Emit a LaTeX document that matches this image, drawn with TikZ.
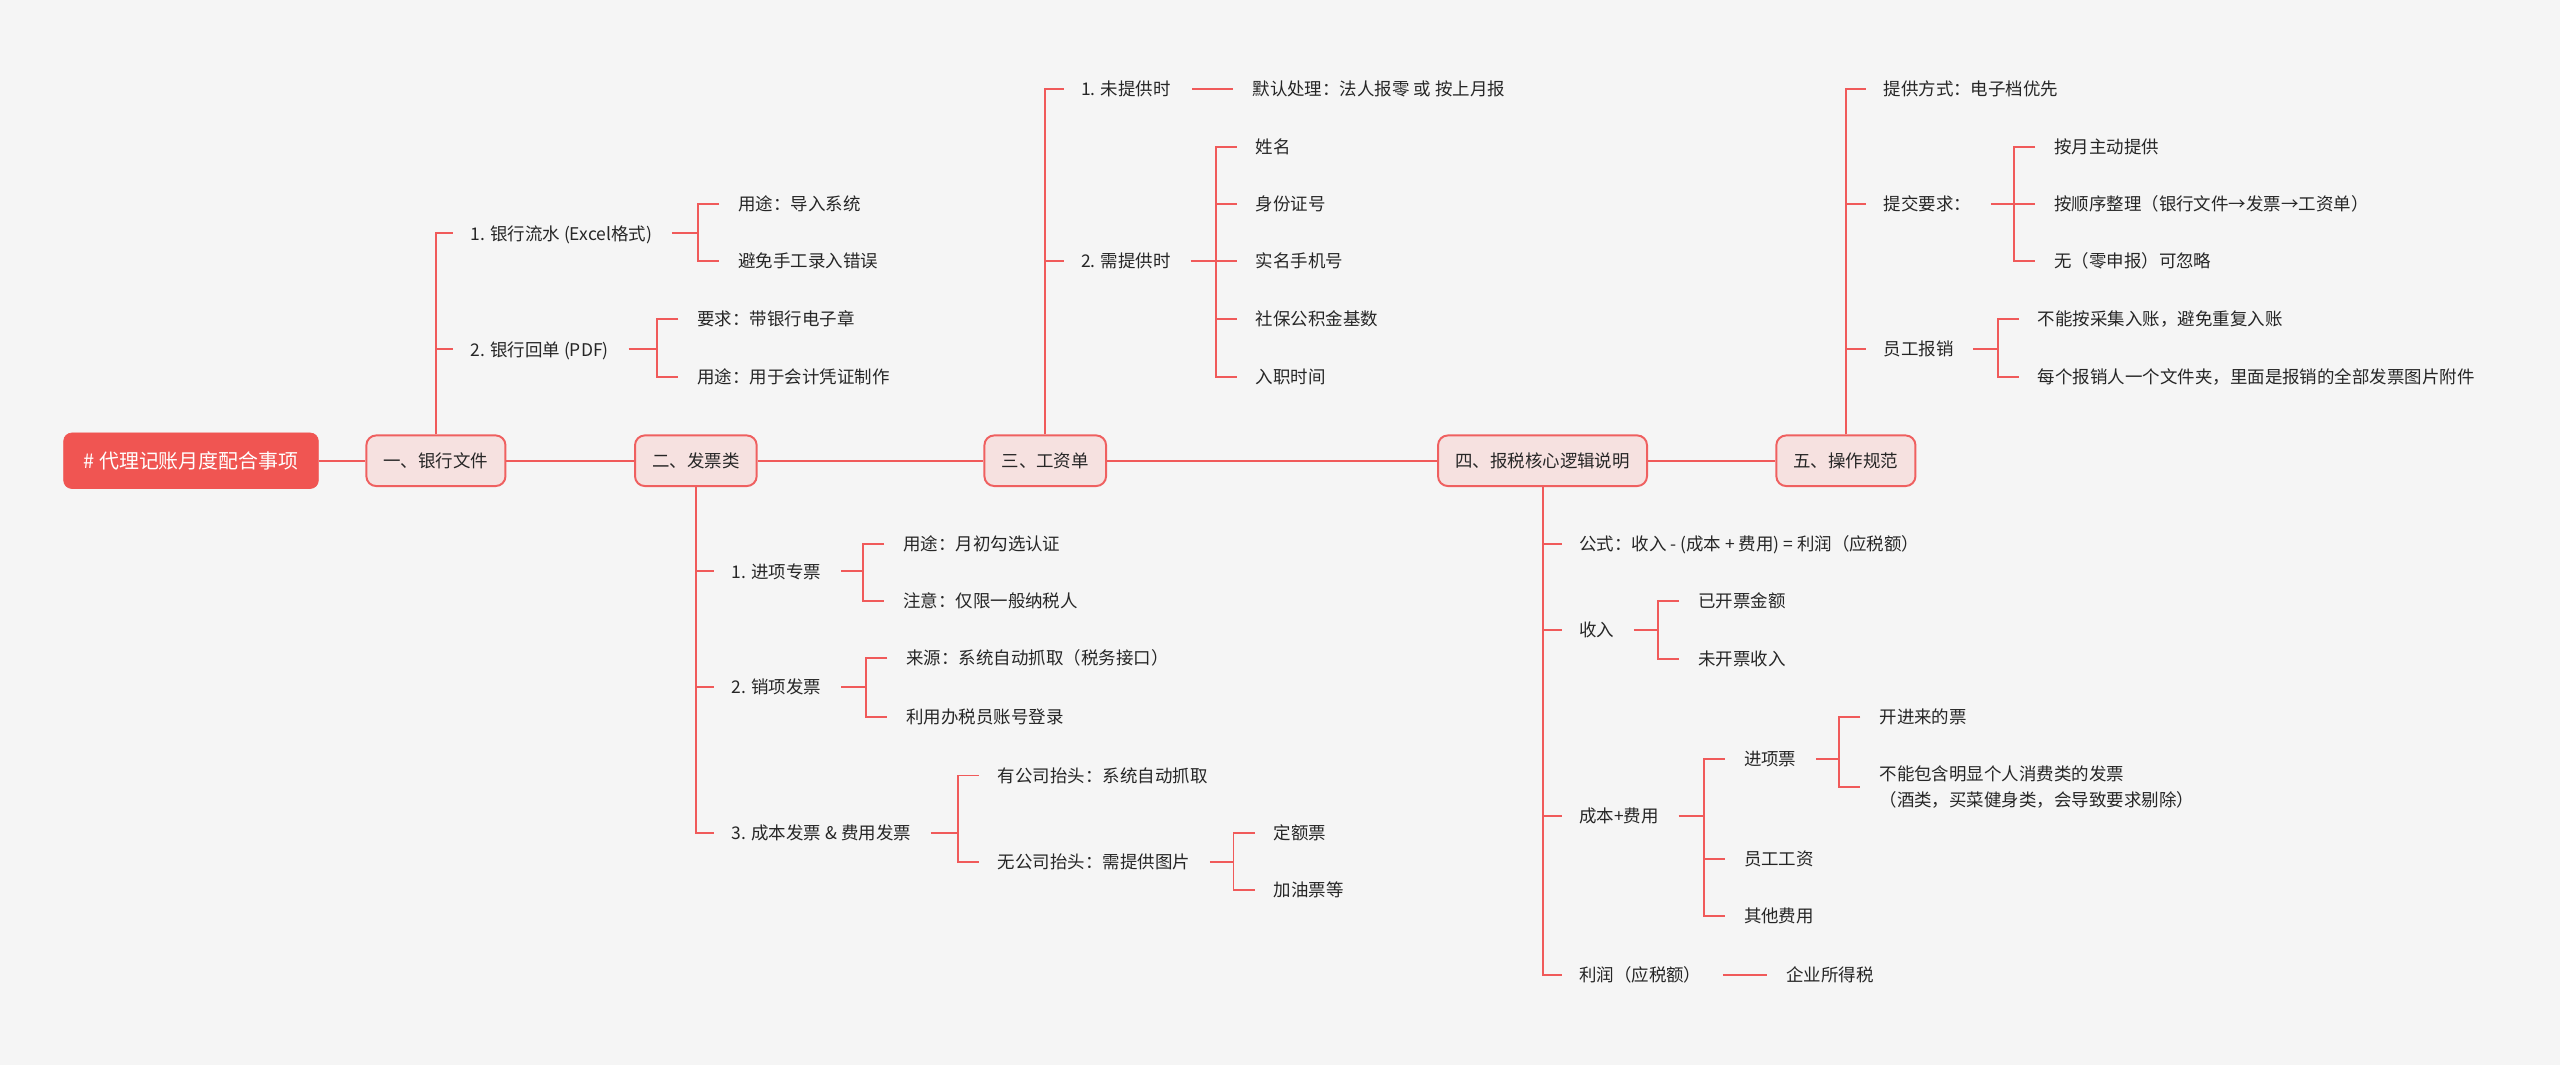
\documentclass[tikz,border=0pt]{standalone}
\usepackage{fontspec}
\setmainfont{Noto Sans CJK SC}
\definecolor{bgc}{HTML}{F5F5F5}
\definecolor{lnc}{HTML}{F05A5A}
\definecolor{rootfill}{HTML}{F05552}
\definecolor{boxfill}{HTML}{F6E1E0}
\definecolor{boxline}{HTML}{EF6060}
\definecolor{txt}{HTML}{262626}
\begin{document}
\begin{tikzpicture}[x=1bp,y=-1bp,
  conn/.style={draw=lnc,line width=1.2bp},
  leaf/.style={anchor=west,inner sep=0pt,text=txt,font=\fontsize{10.7bp}{13bp}\selectfont,text height=8.1bp,text depth=0pt},
  twoline/.style={anchor=west,inner sep=0pt,text=txt,font=\fontsize{10.7bp}{16bp}\selectfont,align=left},
  mainbox/.style={draw=boxline,fill=boxfill,line width=1.2bp,rounded corners=6bp,minimum height=31bp,inner xsep=10.5bp,inner ysep=0pt,text=txt,font=\fontsize{10.7bp}{13bp}\selectfont,text height=8.1bp,text depth=0pt},
  rootbox/.style={fill=rootfill,draw=rootfill,rounded corners=5bp,minimum height=34bp,minimum width=156bp,inner sep=0pt,text=white,font=\fontsize{12.2bp}{14bp}\selectfont,text height=9.3bp,text depth=0pt}]
\fill[bgc] (0,0) rectangle (1568,652);
\useasboundingbox (0,0) rectangle (1568,652);

% main nodes
\node[rootbox] (root) at (117,282.2) {\# 代理记账月度配合事项};
\node[mainbox] (b1) at (267,282.2) {一、银行文件};
\node[mainbox] (b2) at (426.2,282.2) {二、发票类};
\node[mainbox] (b3) at (640.2,282.2) {三、工资单};
\node[mainbox] (b4) at (944.8,282.2) {四、报税核心逻辑说明};
\node[mainbox] (b5) at (1130.6,282.2) {五、操作规范};

\draw[conn] (root.east) -- (b1.west);
\draw[conn] (b1.east) -- (b2.west);
\draw[conn] (b2.east) -- (b3.west);
\draw[conn] (b3.east) -- (b4.west);
\draw[conn] (b4.east) -- (b5.west);

% branch 1
\node[leaf] (g1) at (288,143) {1. 银行流水 (Excel格式)};
\node[leaf] (g1a) at (452,125) {用途：导入系统};
\node[leaf] (g1b) at (452,160) {避免手工录入错误};
\node[leaf] (g2) at (288,214) {2. 银行回单 (PDF)};
\node[leaf] (g2a) at (427,195.5) {要求：带银行电子章};
\node[leaf] (g2b) at (427,231) {用途：用于会计凭证制作};

% branch 2
\node[leaf] (h1) at (448,350) {1. 进项专票};
\node[leaf] (h1a) at (553,333) {用途：月初勾选认证};
\node[leaf] (h1b) at (553,368) {注意：仅限一般纳税人};
\node[leaf] (h2) at (448,421) {2. 销项发票};
\node[leaf] (h2a) at (555,403) {来源：系统自动抓取（税务接口）};
\node[leaf] (h2b) at (555,439) {利用办税员账号登录};
\node[leaf] (h3) at (448,510) {3. 成本发票 \& 费用发票};
\node[leaf] (h3a) at (611,475) {有公司抬头：系统自动抓取};
\node[leaf] (h3b) at (611,528) {无公司抬头：需提供图片};
\node[leaf] (h3b1) at (780,510) {定额票};
\node[leaf] (h3b2) at (780,545) {加油票等};

% branch 3
\node[leaf] (k1) at (662,54.5) {1. 未提供时};
\node[leaf] (k1a) at (767,54.5) {默认处理：法人报零 或 按上月报};
\node[leaf] (k2) at (662,160) {2. 需提供时};
\node[leaf] (k2a) at (769,90) {姓名};
\node[leaf] (k2b) at (769,125) {身份证号};
\node[leaf] (k2c) at (769,160) {实名手机号};
\node[leaf] (k2d) at (769,195.6) {社保公积金基数};
\node[leaf] (k2e) at (769,231) {入职时间};

% branch 4
\node[leaf] (m1) at (967,333) {公式：收入 - (成本 + 费用) = 利润（应税额）};
\node[leaf] (m2) at (967,386) {收入};
\node[leaf] (m2a) at (1040,368) {已开票金额};
\node[leaf] (m2b) at (1040,403.5) {未开票收入};
\node[leaf] (m3) at (967,500) {成本+费用};
\node[leaf] (m3a) at (1068,465) {进项票};
\node[leaf] (m3a1) at (1151,439) {开进来的票};
\node[twoline] (m3a2) at (1151,482) {不能包含明显个人消费类的发票\\（酒类，买菜健身类，会导致要求剔除）};
\node[leaf] (m3b) at (1068,526) {员工工资};
\node[leaf] (m3c) at (1068,561) {其他费用};
\node[leaf] (m4) at (967,597) {利润（应税额）};
\node[leaf] (m4a) at (1094,597) {企业所得税};

% branch 5
\node[leaf] (n1) at (1153.5,54.5) {提供方式：电子档优先};
\node[leaf] (n2) at (1153.5,125) {提交要求：};
\node[leaf] (n2a) at (1258,90) {按月主动提供};
\node[leaf] (n2b) at (1258,125) {按顺序整理（银行文件→发票→工资单）};
\node[leaf] (n2c) at (1258,160) {无（零申报）可忽略};
\node[leaf] (n3) at (1153.5,213.7) {员工报销};
\node[leaf] (n3a) at (1248,195.6) {不能按采集入账，避免重复入账};
\node[leaf] (n3b) at (1248,231) {每个报销人一个文件夹，里面是报销的全部发票图片附件};

% first-level connectors
\foreach \c in {g1,g2} \draw[conn] (b1.north) |- ([xshift=-10.5bp]\c.west);
\foreach \c in {h1,h2,h3} \draw[conn] (b2.south) |- ([xshift=-10.5bp]\c.west);
\foreach \c in {k1,k2} \draw[conn] (b3.north) |- ([xshift=-10.5bp]\c.west);
\foreach \c in {m1,m2,m3,m4} \draw[conn] (b4.south) |- ([xshift=-10.5bp]\c.west);
\foreach \c in {n1,n2,n3} \draw[conn] (b5.north) |- ([xshift=-10.5bp]\c.west);

% brackets: parent stub, vertical bar, child ticks
\foreach \p/\f/\l in {g1/g1a/g1b, g2/g2a/g2b, h1/h1a/h1b, h2/h2a/h2b, h3/h3a/h3b, h3b/h3b1/h3b2, k2/k2a/k2e, m2/m2a/m2b, m3/m3a/m3c, m3a/m3a1/m3a2, n2/n2a/n2c, n3/n3a/n3b}{
  \draw[conn] ([xshift=12bp]\p.east) -- ([xshift=-24.5bp]\f.west |- \p.east);
  \draw[conn] ([xshift=-11.5bp]\f.west) -- ([xshift=-24.5bp]\f.west) -- ([xshift=-24.5bp]\l.west) -- ([xshift=-11.5bp]\l.west);
}
\foreach \c in {k2b,k2c,k2d} \draw[conn] ([xshift=-24.5bp]\c.west) -- ([xshift=-11.5bp]\c.west);
\foreach \c in {n2b} \draw[conn] ([xshift=-24.5bp]\c.west) -- ([xshift=-11.5bp]\c.west);
\draw[conn] ([xshift=-24.5bp]m3b.west) -- ([xshift=-11.5bp]m3b.west);

% single-line links
\draw[conn] ([xshift=13bp]k1.east) -- ([xshift=-12bp]k1a.west);
\draw[conn] ([xshift=13bp]m4.east) -- ([xshift=-12bp]m4a.west);
\end{tikzpicture}
\end{document}
